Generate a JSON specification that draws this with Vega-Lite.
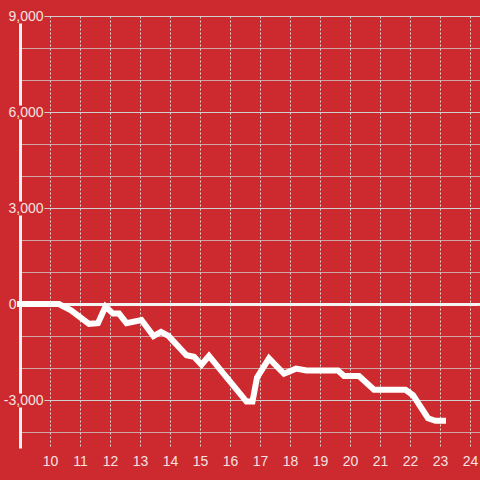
{
  "$schema": "https://vega.github.io/schema/vega-lite/v6.json",
  "width": 460,
  "height": 432,
  "autosize": {"type": "none"},
  "padding": {"left": 20, "top": 16, "right": 0, "bottom": 32},
  "background": "#cc2a2f",
  "config": {"view": {"stroke": null}, "font": "Liberation Sans"},
  "data": {"values": [
    {"h": 9.0, "v": 0},
    {"h": 10.3, "v": 0},
    {"h": 10.7, "v": -200},
    {"h": 11.3, "v": -620},
    {"h": 11.6, "v": -600},
    {"h": 11.85, "v": -80},
    {"h": 12.1, "v": -300},
    {"h": 12.3, "v": -300},
    {"h": 12.55, "v": -600},
    {"h": 13.05, "v": -500},
    {"h": 13.45, "v": -1000},
    {"h": 13.7, "v": -870},
    {"h": 13.95, "v": -1000},
    {"h": 14.55, "v": -1600},
    {"h": 14.8, "v": -1650},
    {"h": 15.05, "v": -1900},
    {"h": 15.3, "v": -1620},
    {"h": 16.55, "v": -3050},
    {"h": 16.75, "v": -3050},
    {"h": 16.9, "v": -2300},
    {"h": 17.3, "v": -1700},
    {"h": 17.8, "v": -2180},
    {"h": 18.2, "v": -2020},
    {"h": 18.55, "v": -2080},
    {"h": 19.6, "v": -2080},
    {"h": 19.8, "v": -2250},
    {"h": 20.3, "v": -2250},
    {"h": 20.8, "v": -2680},
    {"h": 21.85, "v": -2680},
    {"h": 22.1, "v": -2850},
    {"h": 22.6, "v": -3570},
    {"h": 22.85, "v": -3650},
    {"h": 23.1, "v": -3650}
  ]},
  "mark": {"type": "line", "color": "#ffffff", "strokeWidth": 6, "strokeCap": "square", "strokeJoin": "miter"},
  "encoding": {
    "x": {
      "field": "h", "type": "quantitative",
      "scale": {"domain": [9, 24.3333], "nice": false, "zero": false},
      "axis": {
        "values": [10, 11, 12, 13, 14, 15, 16, 17, 18, 19, 20, 21, 22, 23, 24],
        "format": "d", "title": null, "domain": false, "ticks": false, "tickSize": 0,
        "labelPadding": 6, "labelFontSize": 14, "labelColor": "#f5e1e1", "labelFlush": false,
        "labelFont": "Liberation Sans",
        "grid": true, "gridColor": "#d9d9d9", "gridDash": [2, 2], "gridWidth": 1
      }
    },
    "y": {
      "field": "v", "type": "quantitative",
      "scale": {"domain": [-4500, 9000], "nice": false, "zero": false},
      "axis": {
        "values": [-4000, -3000, -2000, -1000, 0, 1000, 2000, 3000, 4000, 5000, 6000, 7000, 8000, 9000],
        "labelExpr": "datum.value % 3000 === 0 ? replace(format(datum.value, ','), '\u2212', '-') : ''",
        "title": null, "ticks": false, "tickSize": 0,
        "domain": true, "domainColor": "#f2f2f2", "domainWidth": 3,
        "domainDash": [41, 14, 178, 14, 82, 14, 82, 14],
        "labelPadding": {"condition": {"test": "datum.value === 0", "value": 4}, "value": -23},
        "labelFontSize": 14, "labelColor": "#f5e1e1", "labelFont": "Liberation Sans",
        "labelOverlap": false, "labelFlush": false,
        "grid": true,
        "gridColor": {"condition": {"test": "datum.value === 0", "value": "#f4f4f4"}, "value": "#d0d0d0"},
        "gridWidth": {"condition": {"test": "datum.value === 0", "value": 3}, "value": 1},
        "gridDash": {"condition": {"test": "datum.value % 3000 === 0 && datum.value !== 0", "value": [0, 24, 2000, 0]}, "value": [1, 0]}
      }
    }
  }
}
